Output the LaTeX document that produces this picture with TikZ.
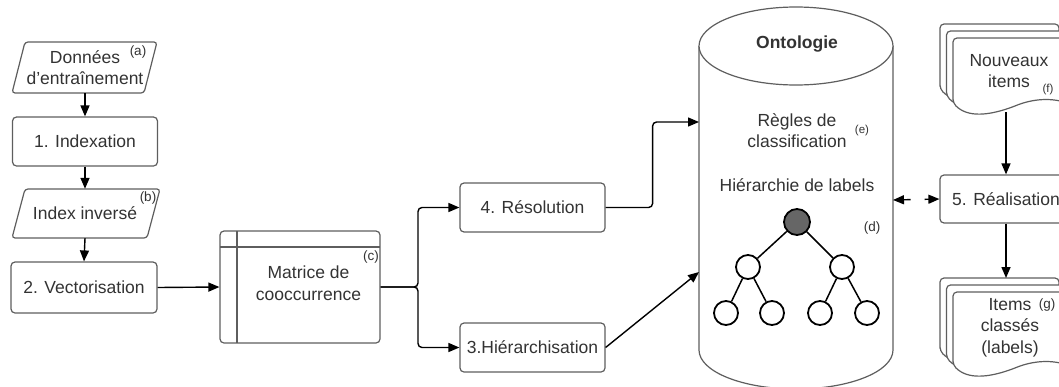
\documentclass[tikz,border=0pt]{standalone}
\usepackage{fontspec}
\setmainfont{Liberation Sans}
\usetikzlibrary{arrows.meta}
\definecolor{bord}{HTML}{5E5E5E}
\definecolor{txt}{HTML}{333333}
\definecolor{rootfill}{HTML}{666666}
\begin{document}
\begin{tikzpicture}[x=1pt,y=-1pt,
 box/.style={draw=bord, line width=1.2pt, rounded corners=4pt, fill=white, minimum width=145pt, minimum height=49pt, inner sep=0pt, font=\fontsize{17.5}{21}\selectfont, text=txt, align=center},
 lbl/.style={inner sep=0pt, font=\fontsize{17.5}{21.5}\selectfont, text=txt, align=center},
 small/.style={inner sep=0pt, font=\fontsize{13.5}{15}\selectfont, text=txt},
 tiny/.style={inner sep=0pt, font=\fontsize{11.5}{13}\selectfont, text=txt},
 arr/.style={-{Triangle[length=11pt,width=9pt]}, line width=1.4pt, black},
 shp/.style={draw=bord, line width=1.2pt, fill=white},
 leaf/.style={circle, draw=black, line width=1.8pt, minimum size=24pt, inner sep=0pt, fill=white},
 edge/.style={line width=1.5pt, black},
 pics/docpage/.style={code={
   \draw[shp, rounded corners=4pt] (0,#1) -- (0,0) -- (119,0) -- (119,#1+2)
     .. controls (99,#1-6) and (79,#1-4) .. (59.5,#1+4)
     .. controls (36,#1+12) and (15,#1+15) .. (0,#1) -- cycle;
 }},
]
\useasboundingbox (0,0) rectangle (1059,386);
\clip (0,0) rectangle (1059,386);

% left column
\draw[shp, rounded corners=3pt] (12,93) -- (25,42) -- (157,42) -- (144,93) -- cycle;
\node[lbl, minimum width=132pt, minimum height=51pt] (don) at (85,67.5) {Données\\d'entraînement};
\node[small] (la) at (138,52) {(a)};

\node[box] (idx) at (85,141.5) {1. Indexation};

\draw[shp, rounded corners=3pt] (12,238) -- (25,189) -- (160,189) -- (147,238) -- cycle;
\node[lbl, minimum width=132pt, minimum height=49pt] (inv) at (85,213.5) {Index inversé};
\node[small] (lb) at (148,198) {(b)};

\node[box, minimum height=51pt, minimum width=146pt] (vec) at (84,287.5) {2. Vectorisation};

\draw[arr] (don.south) -- (idx.north);
\draw[arr] (idx.south) -- (inv.north);
\draw[arr] (inv.south) -- (vec.north);

% matrix
\node[box, minimum width=160pt, minimum height=112pt] (mat) at (300,287) {};
\draw[bord, line width=1.2pt] (237,231) -- (237,343);
\draw[bord, line width=1.2pt] (220,247) -- (380,247);
\node[lbl] (mattxt) at (308.5,283) {Matrice de\\cooccurrence};
\node[small] (lc) at (371,257) {(c)};
\draw[arr] (vec.east) -- (mat.west);

% branch
\node[box] (res) at (532.5,207.5) {4. Résolution};
\node[box] (hie) at (532.5,347.5) {3.Hiérarchisation};
\coordinate (br) at (418,287);
\draw[arr, rounded corners=4pt] (mat.east) -- (br) |- (res.west);
\draw[arr, rounded corners=4pt] (mat.east) -- (br) |- (hie.west);

% cylinder
\draw[shp] (699,46) -- (699,350) arc[start angle=180, end angle=360, x radius=97pt, y radius=39pt] -- (893,46);
\draw[shp] (796,46) ellipse [x radius=97pt, y radius=39pt];
\node[lbl, font=\fontsize{17.5}{21}\selectfont\bfseries] (onto) at (797,44) {Ontologie};
\node[lbl] (regles) at (797,130.5) {Règles de\\classification};
\node[tiny] (le) at (862,131) {(e)};
\node[lbl] (hier) at (797,185) {Hiérarchie de labels};
\node[small] (ld) at (872,228) {(d)};

\coordinate (cylA) at (699,122);
\coordinate (cylB) at (699,272);
\coordinate (cylC) at (893,200);
\draw[arr, rounded corners=4pt] (res.east) -- ++(47,0) |- (cylA);
\draw[arr] (hie.east) -- (cylB);

% tree
\node[leaf, fill=rootfill, minimum size=26pt] (t0) at (797,222) {};
\node[leaf] (t1) at (748,267) {};
\node[leaf] (t2) at (842,267) {};
\node[leaf] (t3) at (726,313) {};
\node[leaf] (t4) at (772,313) {};
\node[leaf] (t5) at (820,313) {};
\node[leaf] (t6) at (867,313) {};
\draw[edge] (t0) -- (t1);
\draw[edge] (t0) -- (t2);
\draw[edge] (t1) -- (t3);
\draw[edge] (t1) -- (t4);
\draw[edge] (t2) -- (t5);
\draw[edge] (t2) -- (t6);

% right column
\node[box, minimum width=132pt, minimum height=48pt] (real) at (1006,199) {5. Réalisation};
\draw[{Triangle[length=11pt,width=9pt]}-{Triangle[length=11pt,width=9pt]}, line width=1.4pt, dash pattern=on 7pt off 14pt] (cylC) -- (real.west);

\pic at (940,24) {docpage=65};
\pic at (946.5,31) {docpage=65};
\pic at (953,38) {docpage=65};
\node[lbl] (nouv) at (1009,71) {Nouveaux\\items};
\node[tiny] (lf) at (1048,90) {(f)};
\coordinate (nouvB) at (1006,112);
\draw[arr] (nouvB) -- (real.north);

\pic at (940,278) {docpage=73};
\pic at (946.5,285) {docpage=73};
\pic at (953,292) {docpage=73};
\node[lbl] (itm) at (1010,327.5) {Items\\classés\\(labels)};
\node[small] (lg) at (1047,305) {(g)};
\coordinate (itemsT) at (1006,278);
\draw[arr] (real.south) -- (itemsT);
\end{tikzpicture}
\end{document}
